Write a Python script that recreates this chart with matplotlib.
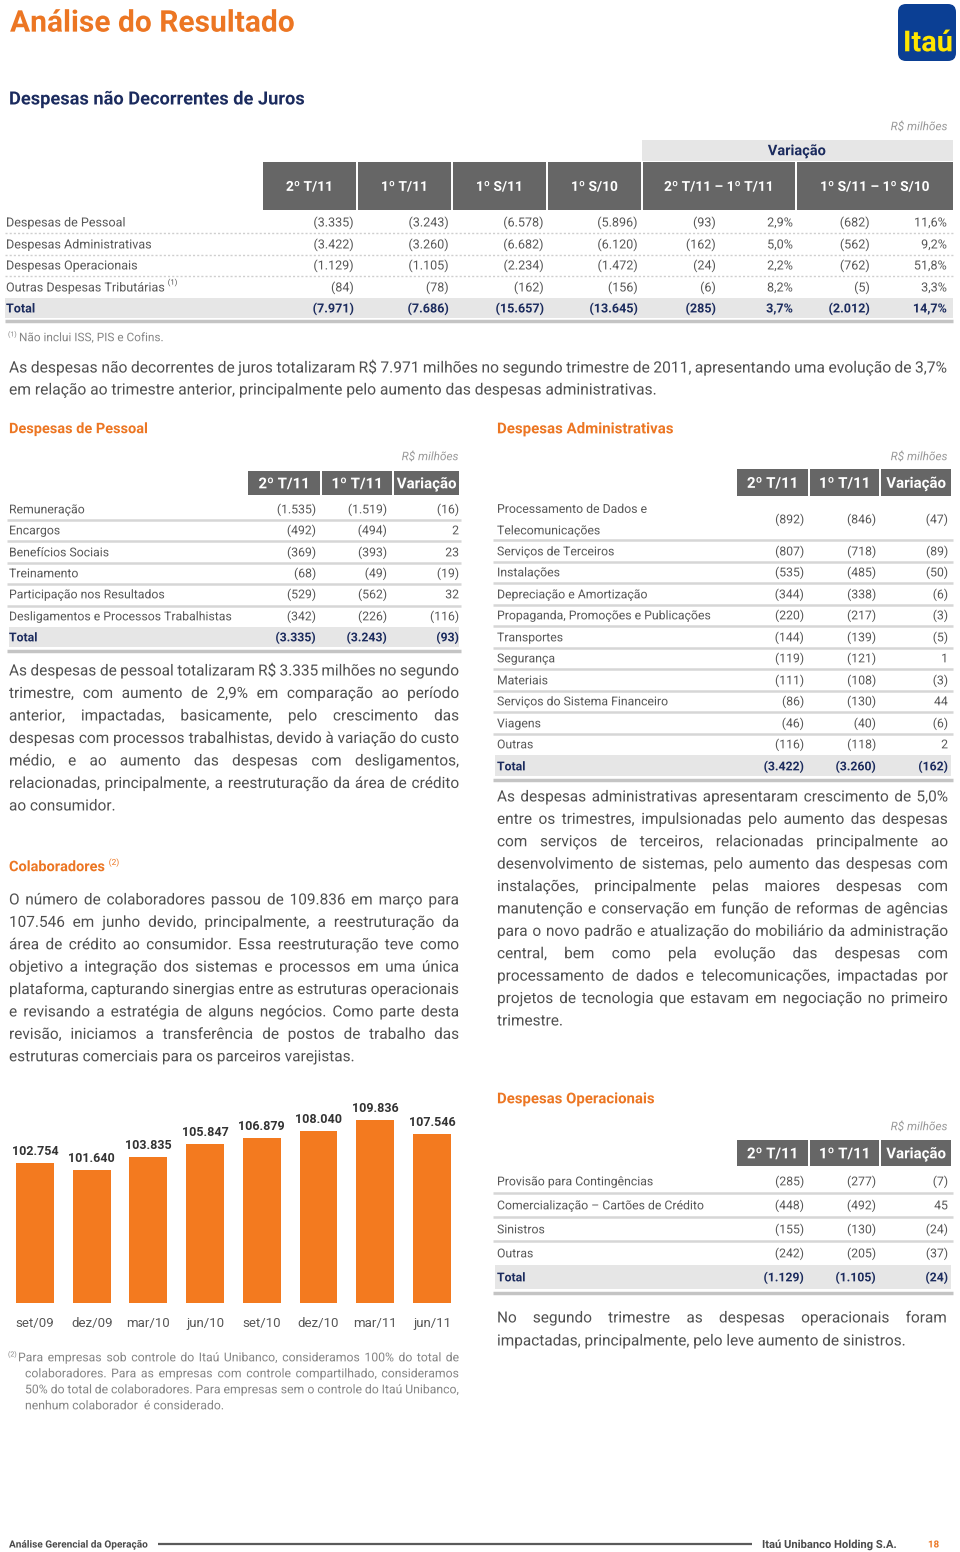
import matplotlib
matplotlib.use('Agg')
import matplotlib.pyplot as plt
import matplotlib.patheffects as pe
from matplotlib.patches import Rectangle, FancyBboxPatch

# ---------------- DATA ----------------
main_cols = ['2º T/11', '1º T/11', '1º S/11', '1º S/10', '2º T/11 – 1º T/11', '1º S/11 – 1º S/10']
main_rows = ['Despesas de Pessoal', 'Despesas Administrativas', 'Despesas Operacionais',
             'Outras Despesas Tributárias', 'Total']
main_2t11 = [-3335, -3422, -1129, -84, -7971]
main_1t11 = [-3243, -3260, -1105, -78, -7686]
main_1s11 = [-6578, -6682, -2234, -162, -15657]
main_1s10 = [-5896, -6120, -1472, -156, -13645]
main_var_q = [-93, -162, -24, -6, -285]
main_var_q_pct = [2.9, 5.0, 2.2, 8.2, 3.7]
main_var_s = [-682, -562, -762, -5, -2012]
main_var_s_pct = [11.6, 9.2, 51.8, 3.3, 14.7]

small_cols = ['2º T/11', '1º T/11', 'Variação']

pes_rows = ['Remuneração', 'Encargos', 'Benefícios Sociais', 'Treinamento',
            'Participação nos Resultados', 'Desligamentos e Processos Trabalhistas', 'Total']
pes_2t11 = [-1535, -492, -369, -68, -529, -342, -3335]
pes_1t11 = [-1519, -494, -393, -49, -562, -226, -3243]
pes_var = [-16, 2, 23, -19, 32, -116, -93]

adm_rows = ['Processamento de Dados e\nTelecomunicações', 'Serviços de Terceiros', 'Instalações',
            'Depreciação e Amortização', 'Propaganda, Promoções e Publicações', 'Transportes',
            'Segurança', 'Materiais', 'Serviços do Sistema Financeiro', 'Viagens', 'Outras', 'Total']
adm_2t11 = [-892, -807, -535, -344, -220, -144, -119, -111, -86, -46, -116, -3422]
adm_1t11 = [-846, -718, -485, -338, -217, -139, -121, -108, -130, -40, -118, -3260]
adm_var = [-47, -89, -50, -6, -3, -5, 1, -3, 44, -6, 2, -162]

ope_rows = ['Provisão para Contingências', 'Comercialização – Cartões de Crédito',
            'Sinistros', 'Outras', 'Total']
ope_2t11 = [-285, -448, -155, -242, -1129]
ope_1t11 = [-277, -492, -130, -205, -1105]
ope_var = [-7, 45, -24, -37, -24]

colab_dates = ['set/09', 'dez/09', 'mar/10', 'jun/10', 'set/10', 'dez/10', 'mar/11', 'jun/11']
colab_vals = [102754, 101640, 103835, 105847, 106879, 108040, 109836, 107546]

# ---------------- STYLE ----------------
FONT = ['Roboto', 'DejaVu Sans']
LW = 'normal'
ORANGE = '#EC7623'
BARC = '#F37A1F'
NAVY = '#1B2B5E'
HDR = '#666666'
BAND = '#E6E6E6'
SEP = '#D6D6D6'
BODY = '#505050'
TXT = '#575757'
LIGHT = '#858585'
PE = [pe.Normal()]   # draw glyphs as outlines -> consistent baselines

fig = plt.figure(figsize=(9.6, 15.52), dpi=100)
ax = fig.add_axes([0, 0, 1, 1])
ax.set_xlim(0, 960)
ax.set_ylim(1552, 0)
ax.axis('off')
renderer = fig.canvas.get_renderer()

_cache = {}


def tw(s, size, weight=LW, style='normal'):
    key = (s, size, weight, style)
    if key not in _cache:
        t = ax.text(0, 0, s, fontsize=size, family=FONT, weight=weight, style=style)
        _cache[key] = t.get_window_extent(renderer).width
        t.remove()
    return _cache[key]


def T(x, y, s, size, color=TXT, weight=LW, ha='left', style='normal'):
    # y is the visual middle of capitals; place on the baseline
    yb = y + 0.355 * size * 100 / 72
    return ax.text(x, yb, s, fontsize=size, family=FONT, color=color, weight=weight,
                   ha=ha, va='baseline', style=style, path_effects=PE)


def fit(s, width, weight=LW):
    return 10 * width / tw(s, 10, weight)


def fit_lines(lines, width):
    sp = tw('a a', 10) - tw('aa', 10)
    size = 100
    for ln in lines:
        words = ln.split(' ')
        nat = sum(tw(w, 10) for w in words) + sp * 0.9 * (len(words) - 1)
        size = min(size, 10 * width / nat)
    return size


def paragraph(lines, x0s, x1, y0, dy, size, color=BODY, just=None):
    for i, ln in enumerate(lines):
        x0 = x0s[i] if isinstance(x0s, (list, tuple)) else x0s
        y = y0 + i * dy
        j = just[i] if just is not None else (i < len(lines) - 1)
        if not j:
            T(x0, y, ln, size, color)
            continue
        words = ln.split(' ')
        ws = [tw(w, 10) * size / 10 for w in words]
        gap = (x1 - x0 - sum(ws)) / (len(words) - 1)
        x = x0
        for w, wd in zip(words, ws):
            T(x, y, w, size, color)
            x += wd + gap


def fmt(v):
    s = f"{abs(v):,}".replace(',', '.')
    return f"({s})" if v < 0 else s


def fpct(v):
    return f"{v:.1f}".replace('.', ',') + '%'


def hline(x0, x1, y, color=SEP, lw=1.0, ls='-'):
    ax.plot([x0, x1], [y, y], color=color, lw=lw, ls=ls, solid_capstyle='butt')


# ---------------- HEADER ----------------
T(10, 21, 'Análise do Resultado', fit('Análise do Resultado', 285, 'bold'), ORANGE, 'bold')
ax.add_patch(FancyBboxPatch((898, 4), 58, 57, boxstyle='round,pad=0,rounding_size=8',
                            fc='#0B3F94', ec='none'))
T(928, 41, 'Itaú', fit('Itaú', 50, 'bold'), '#FFE600', 'bold', ha='center')
T(9, 98, 'Despesas não Decorrentes de Juros',
  fit('Despesas não Decorrentes de Juros', 296, 'bold'), NAVY, 'bold')

# ---------------- MAIN TABLE ----------------
T(947, 126, 'R$ milhões', 8.5, '#9A9A9A', style='italic', ha='right')
ax.add_patch(Rectangle((642, 140), 311, 21, fc=BAND, ec='none'))
T(797, 150, 'Variação', 10.5, NAVY, 'bold', ha='center')
hdr_cells = [(263, 356), (358, 451), (453, 546), (548, 641), (643, 795), (797, 953)]
hsz = fit('2º T/11', 47, 'bold')
for (a, b), h in zip(hdr_cells, main_cols):
    ax.add_patch(Rectangle((a, 162), b - a, 48, fc=HDR, ec='none'))
    T((a + b) / 2, 186, h, hsz, 'white', 'bold', ha='center')

row_y = [222, 244, 265, 287, 308]
lsz = fit('Despesas Administrativas', 146)
ax.add_patch(Rectangle((5, 298), 948, 20, fc=BAND, ec='none'))
hline(5, 953, 321, '#C4C4C4', 2.5)
for yy in [233, 254.5, 276]:
    hline(5, 953, yy, '#CFCFCF', 1.0, (0, (1.5, 1.5)))
cols_vals = [main_2t11, main_1t11, main_1s11, main_1s10, main_var_q]
rights = [354, 449, 544, 638, 716]
for i, lab in enumerate(main_rows):
    tot = lab == 'Total'
    c = NAVY if tot else TXT
    w = 'bold' if tot else LW
    T(6, row_y[i], lab, lsz, c, w)
    if lab.startswith('Outras'):
        T(6 + tw(lab, lsz) + 2, row_y[i] - 5, '(1)', 5.5, TXT)
    for vals, r in zip(cols_vals, rights):
        T(r, row_y[i], fmt(vals[i]), lsz, c, w, ha='right')
    T(793, row_y[i], fpct(main_var_q_pct[i]), lsz, c, w, ha='right')
    T(870, row_y[i], fmt(main_var_s[i]), lsz, c, w, ha='right')
    T(947, row_y[i], fpct(main_var_s_pct[i]), lsz, c, w, ha='right')
T(8, 334, '(1)', 5, LIGHT)
T(19, 337, 'Não inclui ISS, PIS e Cofins.', 8.5, LIGHT)

# main paragraph
main_par = ["As despesas não decorrentes de juros totalizaram R$ 7.971 milhões no segundo trimestre de 2011, apresentando uma evolução de 3,7%",
            "em relação ao trimestre anterior, principalmente pelo aumento das despesas administrativas."]
psz = fit_lines(main_par, 938)
paragraph(main_par, 9, 947, 367, 22, psz)


# ---------------- SMALL TABLES ----------------
def small_table(x_lab, x_line0, x_line1, cells, hy0, hy1, rights, ys, seps, band, thick,
                labels, c1, c2, c3, size, hsize):
    for (a, b), h in zip(cells, small_cols):
        ax.add_patch(Rectangle((a, hy0), b - a, hy1 - hy0, fc=HDR, ec='none'))
        T((a + b) / 2, (hy0 + hy1) / 2, h, hsize, 'white', 'bold', ha='center')
    for yy in seps:
        hline(x_line0, x_line1, yy, SEP, 1.8)
    ax.add_patch(Rectangle((x_line0 + 2, band[0]), x_line1 - x_line0 - 4, band[1] - band[0],
                           fc=BAND, ec='none'))
    hline(x_line0, x_line1, thick, '#C4C4C4', 2.5)
    for i, lab in enumerate(labels):
        tot = lab == 'Total'
        c = NAVY if tot else TXT
        w = 'bold' if tot else LW
        if '\n' in lab:
            l1, l2 = lab.split('\n')
            T(x_lab, ys[i] - 10.5, l1, size, c, w)
            T(x_lab, ys[i] + 11, l2, size, c, w)
        else:
            T(x_lab, ys[i], lab, size, c, w)
        for vals, r in zip([c1, c2, c3], rights):
            T(r, ys[i], fmt(vals[i]), size, c, w, ha='right')


shsz = fit('Variação', 60, 'bold')
tsz = fit('Desligamentos e Processos Trabalhistas', 223)

# Pessoal
T(9, 428, 'Despesas de Pessoal', fit('Despesas de Pessoal', 139, 'bold'), ORANGE, 'bold')
T(458, 456, 'R$ milhões', 8.5, '#9A9A9A', style='italic', ha='right')
small_table(9, 7, 461, [(248, 320), (322, 392), (394, 459)], 471, 495, [316, 387, 459],
            [509, 530, 552, 573, 594, 616, 637], [519.5, 541, 562.5, 584, 605.5],
            (627, 647), 651, pes_rows, pes_2t11, pes_1t11, pes_var, tsz, shsz)

# Administrativas
T(497, 428, 'Despesas Administrativas', fit('Despesas Administrativas', 177, 'bold'), ORANGE, 'bold')
T(947, 456, 'R$ milhões', 8.5, '#9A9A9A', style='italic', ha='right')
small_table(497, 493, 953, [(737, 808), (810, 879), (881, 951)], 469, 496, [804, 876, 948],
            [519, 551, 572, 594, 615, 637, 658, 680, 701, 723, 744, 766],
            [540, 561.5, 583, 604.5, 626, 647.5, 669, 690.5, 712, 733.5],
            (755, 776), 780, adm_rows, adm_2t11, adm_1t11, adm_var, tsz, shsz)

# Operacionais
T(497, 1098, 'Despesas Operacionais', fit('Despesas Operacionais', 158, 'bold'), ORANGE, 'bold')
T(947, 1126, 'R$ milhões', 8.5, '#9A9A9A', style='italic', ha='right')
small_table(497, 493, 953, [(737, 808), (810, 879), (881, 951)], 1140, 1166, [804, 876, 948],
            [1181, 1205, 1229, 1253, 1277], [1193, 1217, 1241],
            (1265, 1289), 1293, ope_rows, ope_2t11, ope_1t11, ope_var, tsz, shsz)

# ---------------- PARAGRAPHS ----------------
pes_par = ["As despesas de pessoal totalizaram R$ 3.335 milhões no segundo",
           "trimestre, com aumento de 2,9% em comparação ao período",
           "anterior, impactadas, basicamente, pelo crescimento das",
           "despesas com processos trabalhistas, devido à variação do custo",
           "médio, e ao aumento das despesas com desligamentos,",
           "relacionadas, principalmente, a reestruturação da área de crédito",
           "ao consumidor."]
col_par = ["O número de colaboradores passou de 109.836 em março para",
           "107.546 em junho devido, principalmente, a reestruturação da",
           "área de crédito ao consumidor. Essa reestruturação teve como",
           "objetivo a integração dos sistemas e processos em uma única",
           "plataforma, capturando sinergias entre as estruturas operacionais",
           "e revisando a estratégia de alguns negócios. Como parte desta",
           "revisão, iniciamos a transferência de postos de trabalho das",
           "estruturas comerciais para os parceiros varejistas."]
adm_par = ["As despesas administrativas apresentaram crescimento de 5,0%",
           "entre os trimestres, impulsionadas pelo aumento das despesas",
           "com serviços de terceiros, relacionadas principalmente ao",
           "desenvolvimento de sistemas, pelo aumento das despesas com",
           "instalações, principalmente pelas maiores despesas com",
           "manutenção e conservação em função de reformas de agências",
           "para o novo padrão e atualização do mobiliário da administração",
           "central, bem como pela evolução das despesas com",
           "processamento de dados e telecomunicações, impactadas por",
           "projetos de tecnologia que estavam em negociação no primeiro",
           "trimestre."]
ope_par = ["No segundo trimestre as despesas operacionais foram",
           "impactadas, principalmente, pelo leve aumento de sinistros."]

bsz = min(fit_lines(pes_par, 450), fit_lines(col_par, 450), fit_lines(adm_par, 451), 12)
paragraph(pes_par, 9, 459, 670, 22.5, bsz)
csz = fit('Despesas de Pessoal', 139, 'bold')
T(9, 866, 'Colaboradores', csz, ORANGE, 'bold')
T(9 + tw('Colaboradores', csz, 'bold') + 4, 862, '(2)', 6, ORANGE)
paragraph(col_par, 9, 459, 899, 22.4, bsz)
paragraph(adm_par, 497, 948, 796, 22.4, bsz)
paragraph(ope_par, 497, 947, 1317, 23, bsz)

# footnote (2)
fn = ["Para empresas sob controle do Itaú Unibanco, consideramos 100% do total de",
      "colaboradores. Para as empresas com controle compartilhado, consideramos",
      "50% do total de colaboradores. Para empresas sem o controle do Itaú Unibanco,",
      "nenhum colaborador  é considerado."]
fsz = min(fit_lines(fn, 434), 8.8)
T(8, 1354, '(2)', 5, LIGHT)
paragraph(fn, [18, 25, 25, 25], 459, 1357, 16, fsz, LIGHT)

# ---------------- BAR CHART ----------------
bax = fig.add_axes([6.65 / 960, 1 - 1303 / 1552, 453.6 / 960, 223 / 1552])
xs = list(range(len(colab_vals)))
bars = bax.bar(xs, colab_vals, width=0.67, color=BARC)
bax.set_xlim(-0.5, len(colab_vals) - 0.5)
bax.set_ylim(80000, 116300)
for x, v in zip(xs, colab_vals):
    bax.annotate(fmt(v), (x, v), xytext=(0, 3.5), textcoords='offset points',
                 ha='center', va='bottom', fontsize=9, weight='bold', color='#333333',
                 family=FONT)
bax.set_xticks(xs)
bax.set_xticklabels(colab_dates, fontsize=9.5, color=TXT, family=FONT, weight=LW)
bax.tick_params(axis='x', length=0, pad=10)
bax.set_yticks([])
for s in bax.spines.values():
    s.set_visible(False)
bax.patch.set_alpha(0)

# ---------------- FOOTER ----------------
T(9, 1544, 'Análise Gerencial da Operação', fit('Análise Gerencial da Operação', 139, 'bold'),
  '#4A4A4A', 'bold')
hline(158, 752, 1544, '#5A5A5A', 1.6)
T(762, 1544, 'Itaú Unibanco Holding S.A.', fit('Itaú Unibanco Holding S.A.', 135, 'bold'),
  '#4A4A4A', 'bold')
T(928, 1544, '18', 7, ORANGE, 'bold')

fig.savefig('out.png', dpi=100)
